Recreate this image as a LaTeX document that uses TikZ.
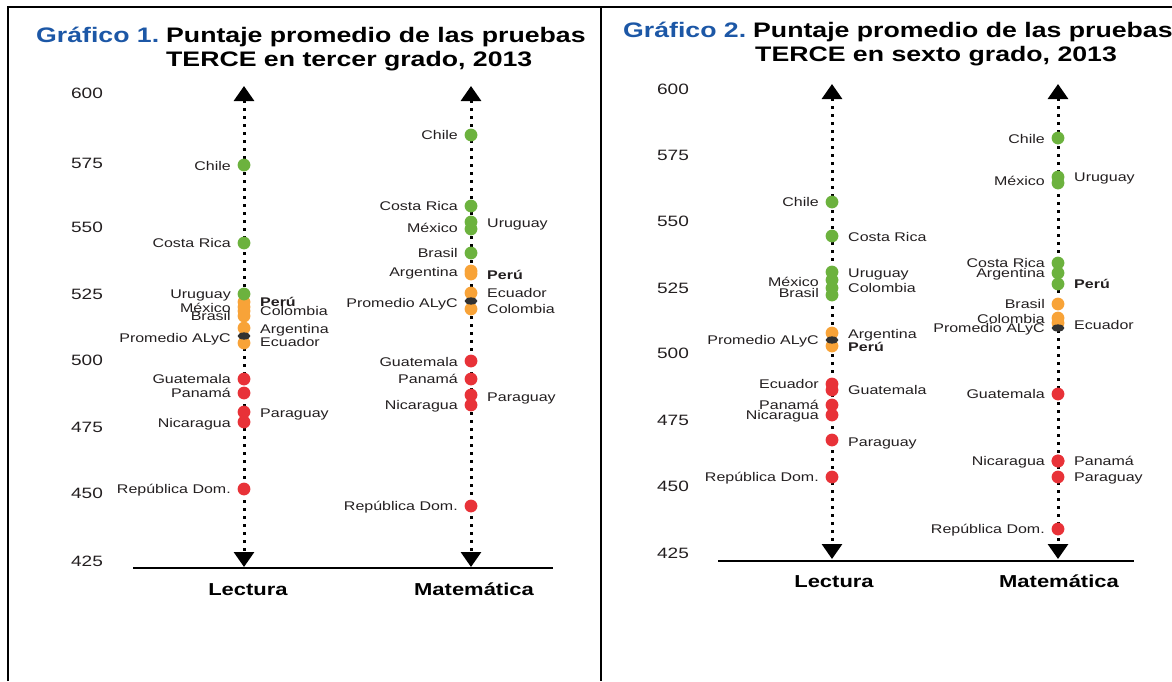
\documentclass[tikz,border=0pt]{standalone}
\usepackage{fontspec}
\setmainfont{Liberation Sans}[FakeStretch=1.27]
\usetikzlibrary{arrows.meta}

\definecolor{verde}{RGB}{108,178,62}
\definecolor{naranja}{RGB}{248,163,56}
\definecolor{rojo}{RGB}{232,50,56}
\definecolor{promedio}{RGB}{50,50,50}
\definecolor{azul}{RGB}{28,87,166}
\definecolor{texto}{RGB}{35,31,32}

\tikzset{
  eje/.style={line width=3pt, dash pattern=on 3pt off 5pt,
    {Triangle[width=20pt,length=15pt]}-{Triangle[width=20pt,length=15pt]}},
  base/.style={line width=1.6pt},
  marco/.style={line width=2pt},
  pais/.style={font=\fontsize{12.6}{13}\selectfont, text=texto, inner sep=0pt},
  izq/.style={anchor=base east, xshift=-13pt, yshift=-4.5pt},
  der/.style={anchor=base west, xshift=16pt, yshift=-4.5pt},
  num/.style={font=\fontsize{15}{16}\selectfont, text=texto, inner sep=0pt, anchor=base, yshift=-5.4pt},
  titulo/.style={font=\fontsize{21}{22}\selectfont\bfseries, inner sep=0pt, anchor=base west},
  materia/.style={font=\fontsize{17.3}{18}\selectfont\bfseries, inner sep=0pt, anchor=base}
}

\begin{document}
\begin{tikzpicture}[x=1pt,y=-1pt]
    \useasboundingbox (0,0) rectangle (1172,681);

    % marco
    \coordinate (M1) at (8,681);
    \coordinate (M2) at (8,7);
    \coordinate (M3) at (1172,7);
    \coordinate (D1) at (601,7);
    \coordinate (D2) at (601,681);
    \draw[marco] (M1) -- (M2) -- (M3);
    \draw[marco] (D1) -- (D2);

    % Grafico 1
    \node[titulo, text=azul] (t1a) at (36,42) {Gráfico 1.};
    \node[titulo] (t1b) at (166,42) {Puntaje promedio de las pruebas};
    \node[titulo] (t1c) at (166,66) {TERCE en tercer grado, 2013};

    \foreach \v/\y [count=\i] in {600/93, 575/163, 550/227, 525/294, 500/360, 475/427, 450/493, 425/561}
        \node[num] (n1-\i) at (87,\y) {\v};

    \coordinate (B1) at (133,568);
    \coordinate (B2) at (553,568);
    \draw[base] (B1) -- (B2);

    \coordinate (L1a) at (244,86);
    \coordinate (L1b) at (244,567);
    \coordinate (M1a) at (471,86);
    \coordinate (M1b) at (471,567);
    \draw[eje] (L1a) -- (L1b);
    \draw[eje] (M1a) -- (M1b);

    \node[materia] (lec1) at (248,595) {Lectura};
    \node[materia] (mat1) at (474,595) {Matemática};

    \foreach \y/\c/\ly/\lado/\t [count=\i] in {
        165/verde/166/izq/Chile, 243/verde/243/izq/Costa Rica,
        302/naranja/302/der/{\bfseries Perú}, 307/naranja/308/izq/México,
        311/naranja/311/der/Colombia, 316/naranja/316/izq/Brasil,
        294/verde/294/izq/Uruguay,
        328/naranja/329/der/Argentina, 343/naranja/342/der/Ecuador,
        379/rojo/379/izq/Guatemala, 393/rojo/393/izq/Panamá,
        412/rojo/413/der/Paraguay, 422/rojo/423/izq/Nicaragua,
        489/rojo/489/izq/República Dom.}
    {
        \fill[\c] (244,\y) circle (6.4pt);
        \node[pais,\lado] (l1-\i) at (244,\ly) {\t};
    }
    \fill[promedio] (244,336) ellipse [x radius=6.4pt, y radius=3.6pt];
    \node[pais,izq] (l1-p) at (244,338) {Promedio ALyC};

    \foreach \y/\c/\ly/\lado/\t [count=\i] in {
        135/verde/135/izq/Chile, 206/verde/206/izq/Costa Rica,
        222/verde/223/der/Uruguay, 229/verde/228/izq/México,
        253/verde/253/izq/Brasil,
        271/naranja/272/izq/Argentina, 274/naranja/275/der/{\bfseries Perú},
        293/naranja/293/der/Ecuador, 309/naranja/309/der/Colombia,
        361/rojo/362/izq/Guatemala, 379/rojo/379/izq/Panamá,
        395/rojo/397/der/Paraguay, 405/rojo/405/izq/Nicaragua,
        506/rojo/506/izq/República Dom.}
    {
        \fill[\c] (471,\y) circle (6.4pt);
        \node[pais,\lado] (m1-\i) at (471,\ly) {\t};
    }
    \fill[promedio] (471,301) ellipse [x radius=6.4pt, y radius=3.6pt];
    \node[pais,izq] (m1-p) at (471,303) {Promedio ALyC};

    % Grafico 2
    \node[titulo, text=azul] (t2a) at (623,37) {Gráfico 2.};
    \node[titulo] (t2b) at (753,37) {Puntaje promedio de las pruebas};
    \node[titulo] (t2c) at (755,61) {TERCE en sexto grado, 2013};

    \foreach \v/\y [count=\i] in {600/89, 575/155, 550/221, 525/288, 500/353, 475/420, 450/486, 425/553}
        \node[num] (n2-\i) at (673,\y) {\v};

    \coordinate (B3) at (718,561);
    \coordinate (B4) at (1134,561);
    \draw[base] (B3) -- (B4);

    \coordinate (L2a) at (832,84);
    \coordinate (L2b) at (832,559);
    \coordinate (M2a) at (1058,84);
    \coordinate (M2b) at (1058,559);
    \draw[eje] (L2a) -- (L2b);
    \draw[eje] (M2a) -- (M2b);

    \node[materia] (lec2) at (834,587) {Lectura};
    \node[materia] (mat2) at (1059,587) {Matemática};

    \foreach \y/\c/\ly/\lado/\t [count=\i] in {
        202/verde/202/izq/Chile, 236/verde/237/der/Costa Rica,
        272/verde/273/der/Uruguay, 280/verde/282/izq/México,
        288/verde/288/der/Colombia, 295/verde/293/izq/Brasil,
        333/naranja/334/der/Argentina, 346/naranja/347/der/{\bfseries Perú},
        384/rojo/384/izq/Ecuador, 390/rojo/390/der/Guatemala,
        405/rojo/405/izq/Panamá, 415/rojo/415/izq/Nicaragua,
        440/rojo/442/der/Paraguay, 477/rojo/477/izq/República Dom.}
    {
        \fill[\c] (832,\y) circle (6.4pt);
        \node[pais,\lado] (l2-\i) at (832,\ly) {\t};
    }
    \fill[promedio] (832,340) ellipse [x radius=6.4pt, y radius=3.6pt];
    \node[pais,izq] (l2-p) at (832,340) {Promedio ALyC};

    \foreach \y/\c/\ly/\lado/\t [count=\i] in {
        138/verde/139/izq/Chile, 177/verde/177/der/Uruguay,
        183/verde/181/izq/México, 263/verde/263/izq/Costa Rica,
        273/verde/273/izq/Argentina, 284/verde/284/der/{\bfseries Perú},
        304/naranja/304/izq/Brasil, 318/naranja/319/izq/Colombia,
        323/naranja/325/der/Ecuador,
        394/rojo/394/izq/Guatemala, 461/rojo/461/izq/Nicaragua,
        461/rojo/461/der/Panamá, 477/rojo/477/der/Paraguay,
        529/rojo/529/izq/República Dom.}
    {
        \fill[\c] (1058,\y) circle (6.4pt);
        \node[pais,\lado] (m2-\i) at (1058,\ly) {\t};
    }
    \fill[promedio] (1058,328) ellipse [x radius=6.4pt, y radius=3.6pt];
    \node[pais,izq] (m2-p) at (1058,328) {Promedio ALyC};

\end{tikzpicture}
\end{document}
